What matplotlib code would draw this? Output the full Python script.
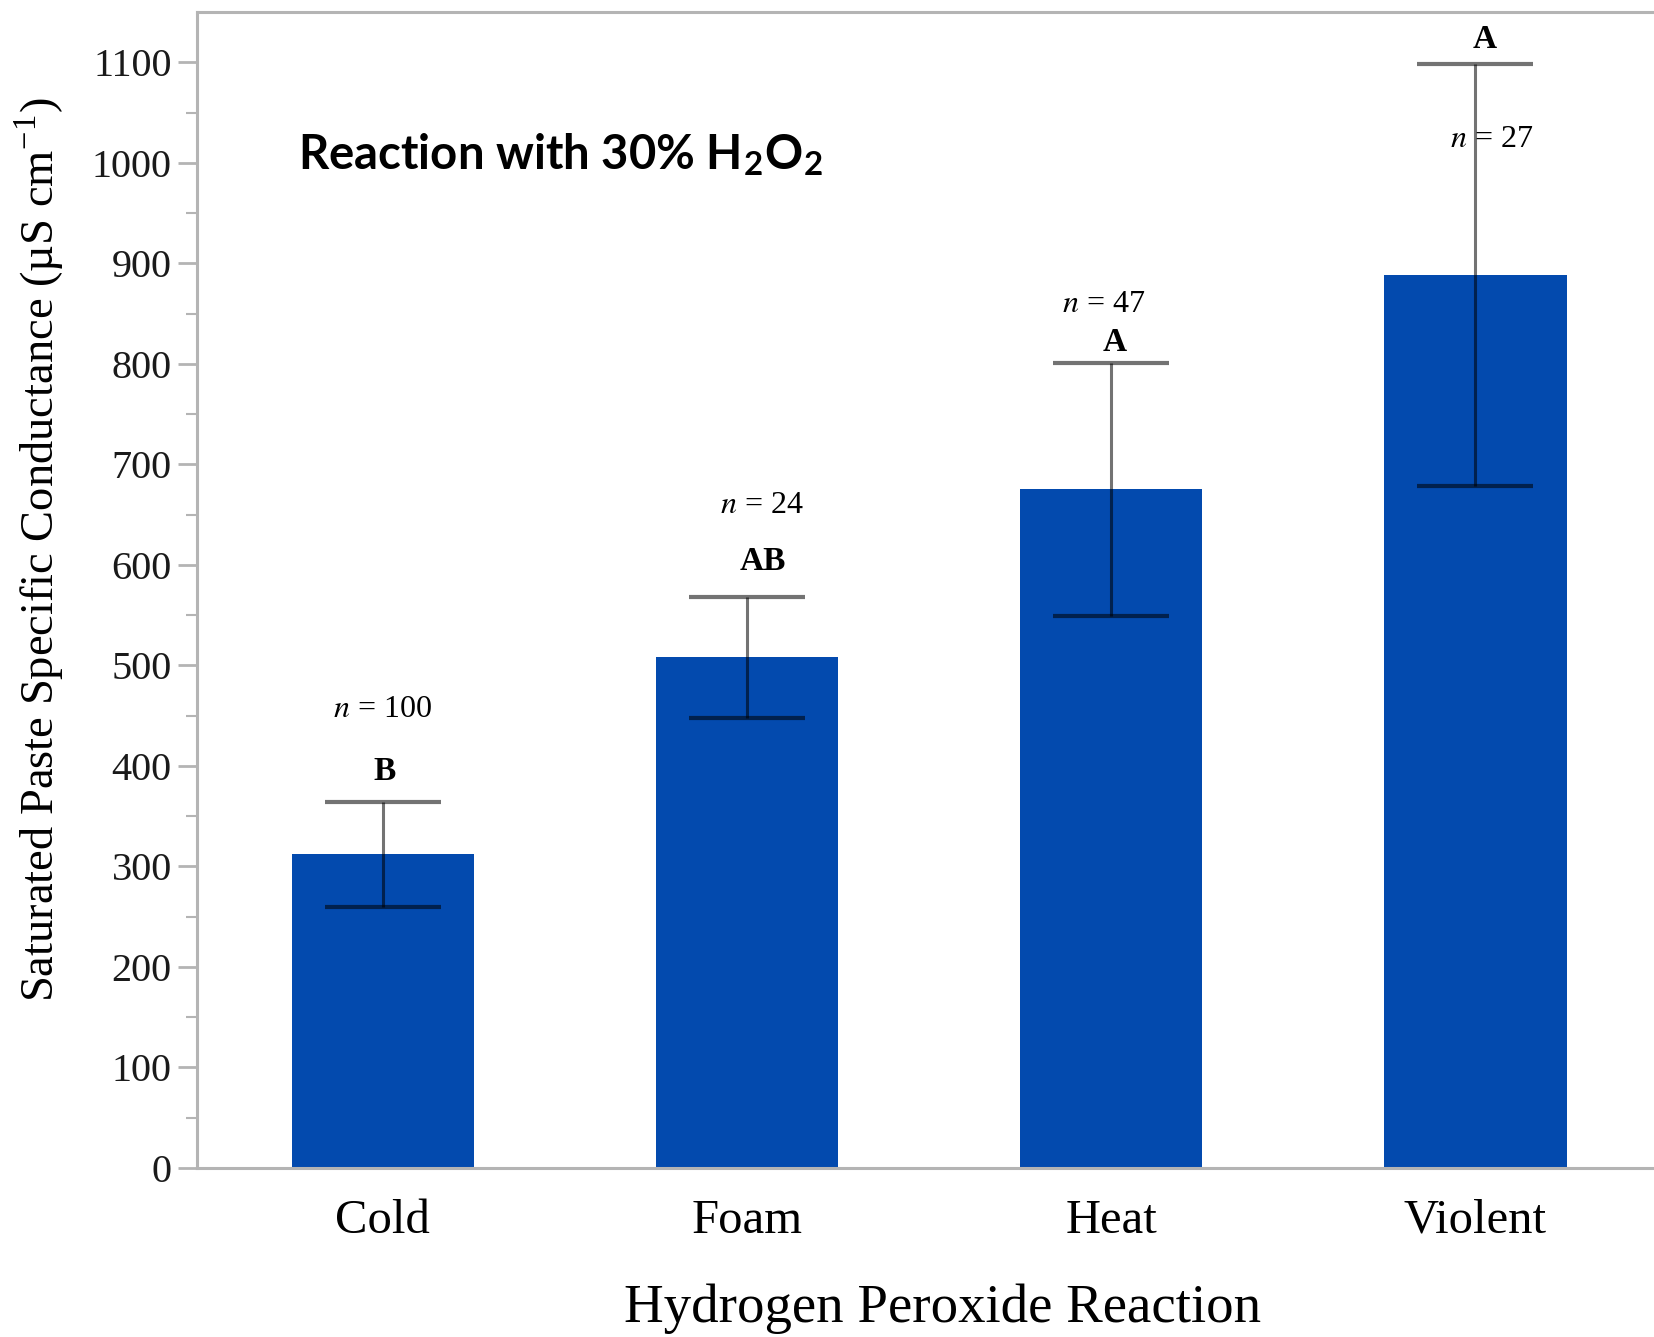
import matplotlib
matplotlib.use("Agg")
import matplotlib.pyplot as plt
import numpy as np

categories = ["Cold", "Foam", "Heat", "Violent"]
means = [312, 508, 675, 888]
errors = [52, 60, 126, 210]
sample_sizes = [100, 24, 47, 27]
groups = ["B", "AB", "A", "A"]

BAR_COLOR = "#034AAE"
SPINE_COLOR = "#b4b4b4"

plt.rcParams["font.family"] = ["Liberation Serif", "DejaVu Serif"]
plt.rcParams["mathtext.fontset"] = "stix"

fig = plt.figure(figsize=(16.54, 13.37), dpi=100)
ax = fig.add_axes([0.119, 0.1264, 0.881, 0.8646])

x = np.arange(len(categories))
ax.bar(x, means, width=0.5, color=BAR_COLOR, zorder=2)
ax.errorbar(x, means, yerr=errors, fmt="none", ecolor="black", alpha=0.55,
            elinewidth=2.2, capsize=42, capthick=3.0, zorder=3)

ax.set_xlim(-0.51, 3.49)
ax.set_ylim(0, 1150)
ax.set_yticks(np.arange(0, 1101, 100))
ax.set_yticks(np.arange(50, 1101, 100), minor=True)
ax.set_xticks(x)
ax.set_xticklabels(categories, fontsize=35)

ax.tick_params(axis="y", which="major", length=14, width=2, color=SPINE_COLOR,
               labelsize=29, pad=4, labelcolor="#1a1a1a")
ax.tick_params(axis="y", which="minor", length=8, width=1.5, color=SPINE_COLOR)
ax.tick_params(axis="x", length=0, pad=22)

for side in ["left", "top", "bottom"]:
    ax.spines[side].set_color(SPINE_COLOR)
    ax.spines[side].set_linewidth(2.2)
ax.spines["right"].set_visible(False)

ax.set_ylabel(r"Saturated Paste Specific Conductance (µS cm$^{\mathregular{-1}}$)",
              fontsize=33.5)
ax.yaxis.set_label_coords(-0.089, 0.535)

fig.text(0.570, 0.0115, "Hydrogen Peroxide Reaction", fontsize=39.5,
         ha="center", va="baseline")

# significance letters and sample counts, offset from the error bar tops
letter_dy = [30, 35, 20, 25]
count_dy = [92, 91, 58, -75]
letter_dx = [0.005, 0.045, 0.01, 0.025]
count_dx = [0.0, 0.04, -0.02, 0.045]
for i in range(len(categories)):
    top = means[i] + errors[i]
    ax.text(x[i] + letter_dx[i], top + letter_dy[i], groups[i], fontsize=24,
            fontweight="bold", ha="center", va="center", zorder=4)
    ax.text(x[i] + count_dx[i], top + count_dy[i], f"$n$ = {sample_sizes[i]}",
            fontsize=23, ha="center", va="center", zorder=4)

fig.text(0.180, 0.873, r"Reaction with 30% H$_\mathregular{2}$O$_\mathregular{2}$",
         fontsize=34, fontweight="bold", family=["Lato", "DejaVu Sans"],
         ha="left", va="baseline")

fig.savefig("out.png", dpi=100)
